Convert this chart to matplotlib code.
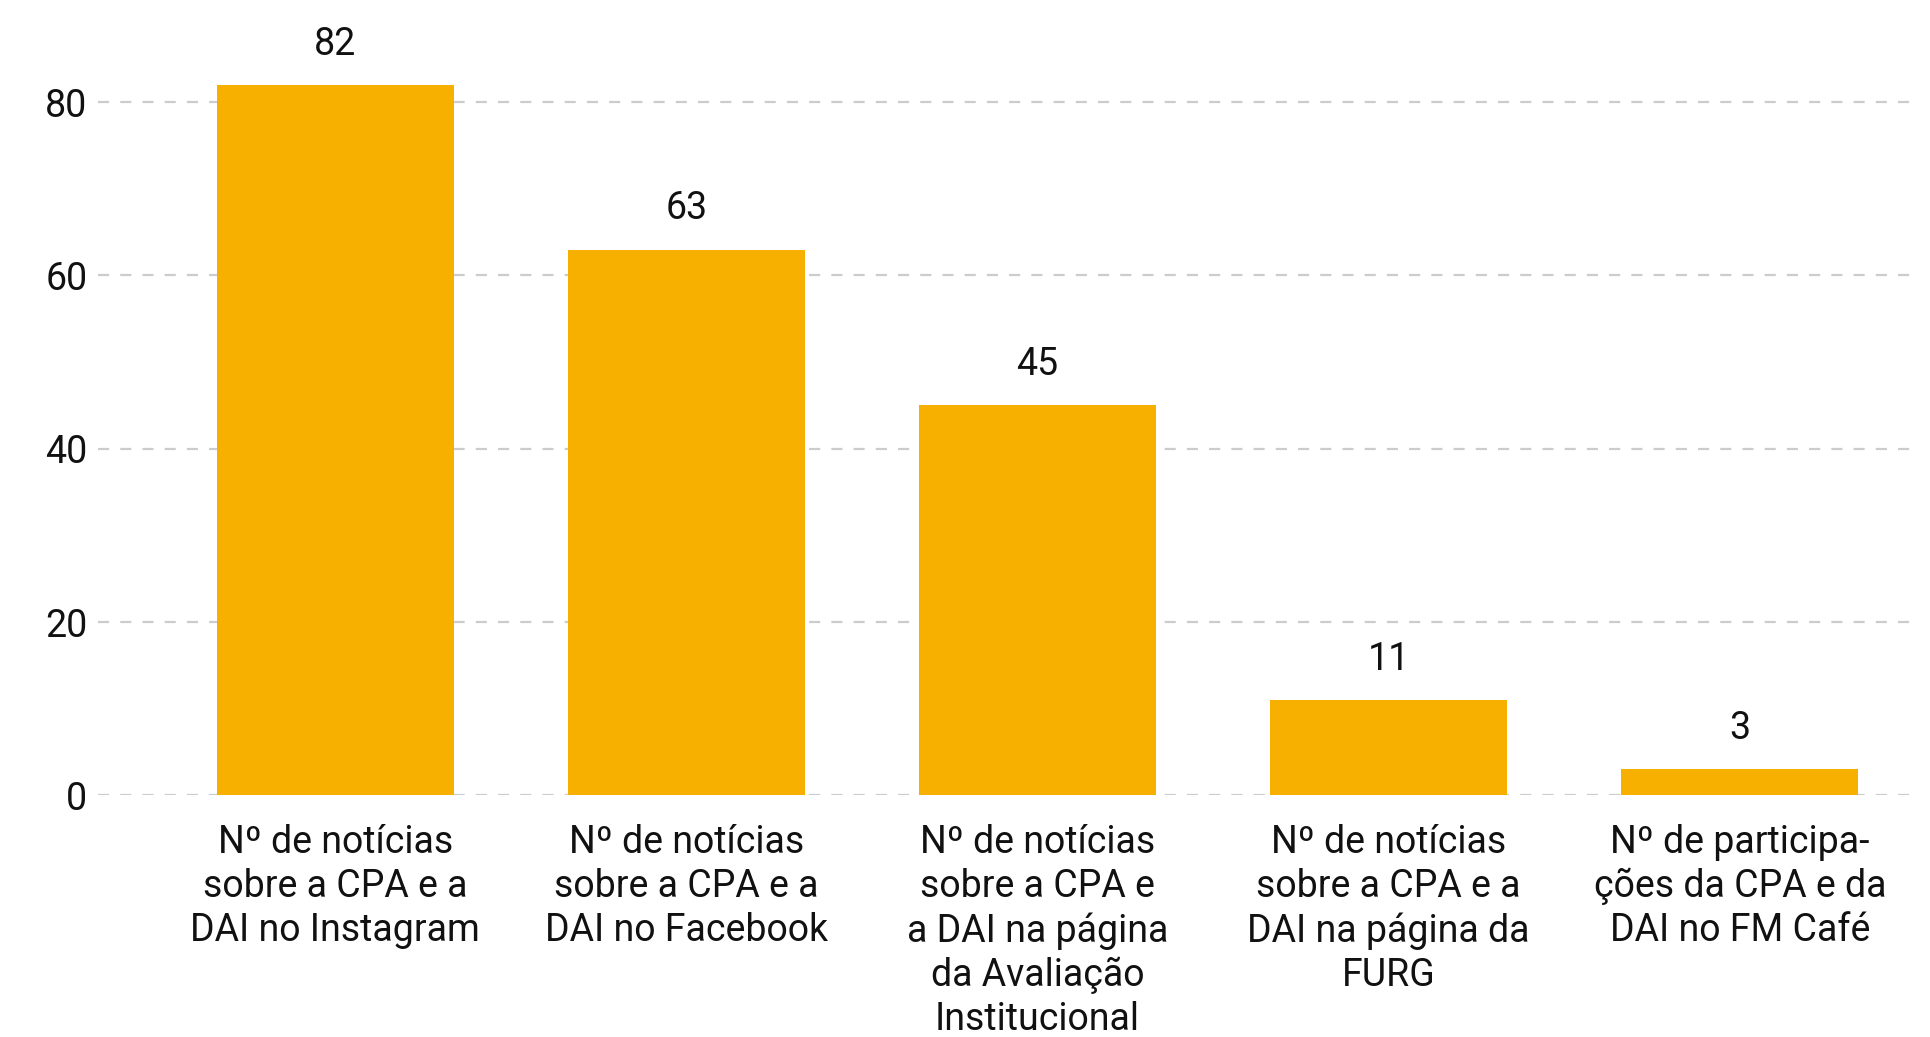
import matplotlib.pyplot as plt

categories = [
    "Nº de notícias\nsobre a CPA e a\nDAI no Instagram",
    "Nº de notícias\nsobre a CPA e a\nDAI no Facebook",
    "Nº de notícias\nsobre a CPA e\na DAI na página\nda Avaliação\nInstitucional",
    "Nº de notícias\nsobre a CPA e a\nDAI na página da\nFURG",
    "Nº de participa-\nções da CPA e da\nDAI no FM Café",
]
values = [82, 63, 45, 11, 3]
y_ticks = [0, 20, 40, 60, 80]

plt.rcParams["font.family"] = ["Roboto", "DejaVu Sans"]

fig = plt.figure(figsize=(19.31, 10.37), dpi=100)
fig.patch.set_facecolor("white")
ax = fig.add_axes([0.051, 0.233, 0.938, 0.752])

x = list(range(len(values)))
bars = ax.bar(x, values, width=0.675, color="#F8B000", zorder=3)

for rect, v in zip(bars, values):
    ax.annotate(f"{v}", (rect.get_x() + rect.get_width() / 2, v),
                textcoords="offset points", xytext=(0, 16),
                ha="center", va="bottom", fontsize=27, color="#111111")

ax.set_xlim(-0.674, 4.484)
ax.set_ylim(0, 90)
ax.set_yticks(y_ticks)
ax.set_xticks(x)
ax.set_xticklabels(categories, fontsize=27, color="#111111", linespacing=1.245)
ax.tick_params(axis="y", length=0, pad=8, labelsize=27, labelcolor="#111111")
ax.tick_params(axis="x", length=0, pad=20.5)

ax.grid(axis="y", color="#cccccc", linewidth=1.6, linestyle=(0, (5, 5)), zorder=0)
ax.set_axisbelow(True)

for spine in ax.spines.values():
    spine.set_visible(False)

fig.savefig("out.png", dpi=100, facecolor="white")
